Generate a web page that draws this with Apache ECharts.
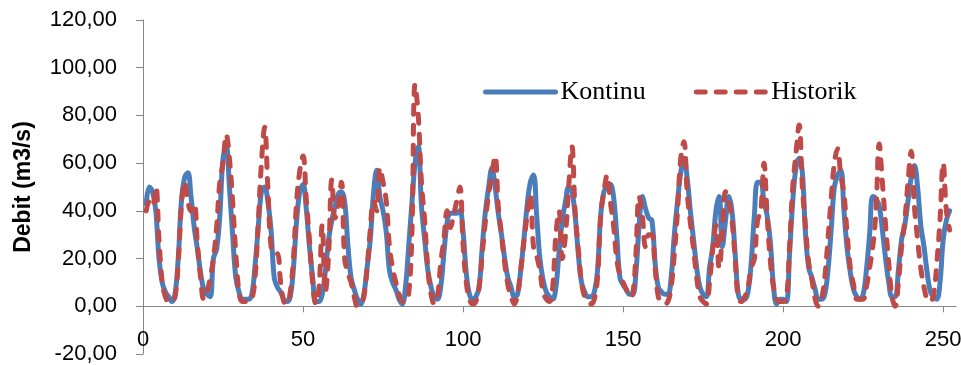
<!DOCTYPE html>
<html>
<head>
<meta charset="utf-8">
<script src="https://cdn.jsdelivr.net/npm/echarts@6/dist/echarts.min.js"></script>
<style>
  html, body { margin: 0; padding: 0; background: #fff; }
  #chart { width: 961px; height: 365px; }
</style>
</head>
<body>
<div id="chart"></div>
<script>
// x = 1..252
const kontinu = [
  43, 50, 48, 40, 20, 10, 6, 4, 2, 5, 20, 44, 54, 56, 46, 33, 24, 14, 7, 5,
  4, 20, 24, 38, 62, 67, 50, 30, 12, 6, 3, 3, 3, 5, 17, 33, 48, 50, 44, 32,
  12, 8, 6, 3, 2, 4, 16, 36, 48, 51, 41, 25, 12, 2, 2, 5, 15, 28, 36, 42,
  47, 48, 44, 26, 12, 7, 3, 1, 5, 16, 28, 47, 57, 46, 40, 31, 15, 10, 7, 3,
  1, 8, 25, 43, 60, 67, 42, 28, 15, 8, 4, 3, 8, 22, 35, 39, 39, 39, 40, 31,
  14, 5, 3, 4, 8, 25, 40, 50, 58, 50, 39, 30, 20, 12, 8, 4, 5, 15, 28, 42,
  52, 55, 38, 20, 11, 6, 4, 3, 8, 23, 36, 44, 50, 48, 38, 22, 10, 6, 4, 4,
  6, 15, 38, 48, 50, 51, 46, 30, 12, 9, 7, 5, 5, 14, 34, 46, 41, 37, 36, 18,
  8, 6, 5, 5, 12, 30, 44, 56, 62, 54, 40, 28, 16, 8, 5, 4, 16, 25, 40, 46,
  25, 36, 46, 40, 22, 5, 3, 3, 6, 18, 38, 52, 52, 44, 38, 27, 8, 1, 3, 3,
  2, 22, 44, 58, 62, 56, 30, 16, 12, 7, 3, 3, 5, 15, 32, 50, 55, 57, 40, 24,
  14, 7, 4, 3, 5, 15, 30, 46, 45, 42, 32, 20, 10, 4, 4, 15, 28, 34, 44, 54,
  59, 50, 34, 25, 14, 6, 4, 3, 10, 28, 36, 40
];
const historik = [
  40, 44, 42, 50, 28, 10, 4, 2, 2, 4, 18, 42, 52, 44, 40, 43, 26, 12, 3, 6,
  12, 20, 33, 52, 60, 72, 62, 44, 22, 6, 2, 2, 2, 3, 12, 35, 60, 75, 50, 25,
  22, 22, 10, 2, 1, 6, 20, 44, 57, 63, 45, 28, 10, 1, 8, 34, 6, 22, 53, 37,
  42, 52, 20, 14, 10, 4, 0, 1, 4, 16, 32, 44, 40, 58, 52, 44, 25, 16, 10, 5,
  2, 2, 5, 30, 93, 80, 52, 36, 16, 5, 1, 4, 18, 28, 40, 33, 38, 44, 50, 26,
  10, 3, 1, 2, 8, 22, 36, 47, 55, 63, 42, 30, 18, 9, 4, 1, 5, 15, 27, 38,
  47, 25, 21, 15, 6, 3, 2, 8, 30, 40, 20, 30, 50, 67, 40, 24, 10, 4, 2, 1,
  3, 12, 38, 48, 55, 44, 34, 20, 13, 10, 7, 4, 5, 22, 46, 38, 25, 30, 30, 16,
  4, 2, 1, 2, 8, 22, 40, 62, 69, 48, 35, 24, 12, 4, 2, 1, 10, 24, 34, 16,
  30, 48, 44, 36, 20, 3, 2, 4, 8, 16, 20, 36, 40, 60, 38, 19, 8, 3, 2, 2,
  3, 25, 50, 64, 76, 50, 33, 18, 11, 3, 0, 3, 12, 28, 45, 60, 66, 55, 47, 30,
  16, 9, 3, 3, 3, 8, 16, 25, 40, 68, 52, 34, 18, 4, 0, 10, 25, 36, 52, 65,
  42, 28, 16, 8, 3, 2, 5, 18, 36, 60, 40, 32
];
const xTicks = [0, 50, 100, 150, 200, 250];
const yTicks = [-20, 0, 20, 40, 60, 80, 100, 120];

const pairs = (arr) => arr.map((v, i) => [i + 1, v]);
const comma = (v) => v.toFixed(2).replace('.', ',');
const axisGray = '#868686';

const chart = echarts.init(document.getElementById('chart'), null, { renderer: 'canvas' });
chart.setOption({
  animation: false,
  grid: { left: 143, right: 5, top: 20, bottom: 11, containLabel: false, outerBoundsMode: 'none' },
  legend: {
    top: 74,
    left: 478,
    itemWidth: 70,
    itemHeight: 14,
    itemGap: 48,
    itemStyle: { opacity: 0 },
    lineStyle: { width: 5 },
    textStyle: { fontFamily: 'Liberation Serif', fontSize: 26, color: '#000' },
    data: ['Kontinu', 'Historik']
  },
  xAxis: {
    type: 'value',
    min: 0,
    max: 254,
    interval: 50,
    splitLine: { show: false },
    axisLine: { onZero: true, lineStyle: { color: axisGray, width: 1 } },
    axisTick: { customValues: xTicks, length: 6, lineStyle: { color: axisGray } },
    axisLabel: {
      customValues: xTicks,
      margin: -25,
      fontFamily: 'Liberation Sans',
      fontSize: 22,
      color: '#000'
    }
  },
  yAxis: {
    type: 'value',
    min: yTicks[0],
    max: yTicks[yTicks.length - 1],
    interval: 20,
    name: 'Debit (m3/s)',
    nameLocation: 'middle',
    nameGap: 108,
    nameTextStyle: { fontFamily: 'Liberation Sans', fontWeight: 'bold', fontSize: 23, color: '#000' },
    splitLine: { show: false },
    axisLine: { show: true, lineStyle: { color: axisGray, width: 1 } },
    axisTick: { show: true, length: 7, lineStyle: { color: axisGray } },
    axisLabel: {
      formatter: comma,
      margin: 26,
      fontFamily: 'Liberation Sans',
      fontSize: 22,
      color: '#000'
    }
  },
  series: [
    {
      name: 'Kontinu',
      type: 'line',
      data: pairs(kontinu),
      symbol: 'none',
      smooth: 0.4,
      lineStyle: { color: '#4a7ebb', width: 5, cap: 'round', join: 'round' },
      itemStyle: { color: '#4a7ebb' },
      emphasis: { disabled: true }
    },
    {
      name: 'Historik',
      type: 'line',
      data: pairs(historik),
      symbol: 'none',
      smooth: 0.4,
      lineStyle: { color: '#be4b48', width: 5, type: [9, 11], cap: 'round', join: 'round' },
      itemStyle: { color: '#be4b48' },
      emphasis: { disabled: true }
    }
  ]
});
</script>
</body>
</html>
